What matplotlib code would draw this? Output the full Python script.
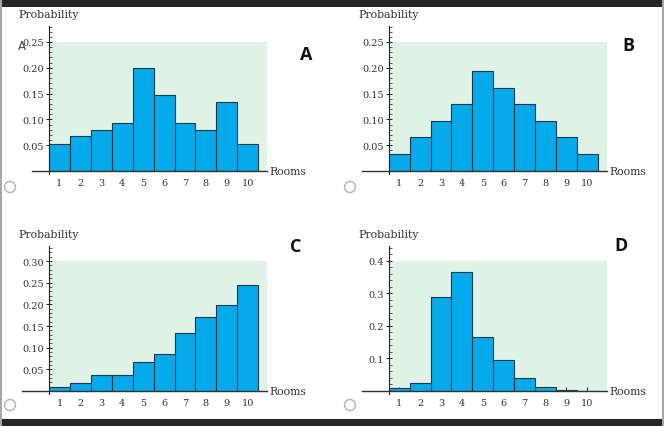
import matplotlib
matplotlib.use("Agg")
import matplotlib.pyplot as plt
from matplotlib.patches import Rectangle, Ellipse
from matplotlib.ticker import MultipleLocator, FixedLocator

W, H = 664, 427

rooms = [1, 2, 3, 4, 5, 6, 7, 8, 9, 10]
prob_a = [0.053, 0.067, 0.080, 0.093, 0.200, 0.147, 0.093, 0.080, 0.133, 0.053]
prob_b = [0.032, 0.065, 0.097, 0.129, 0.194, 0.161, 0.129, 0.097, 0.065, 0.032]
prob_c = [0.009, 0.018, 0.037, 0.037, 0.067, 0.085, 0.134, 0.170, 0.199, 0.246]
prob_d = [0.009, 0.026, 0.288, 0.366, 0.166, 0.094, 0.039, 0.012, 0.002, 0.001]

y_ticks_abc = [0.05, 0.10, 0.15, 0.20, 0.25, 0.30]
y_ticks_d = [0.1, 0.2, 0.3, 0.4]

bar_color = "#05aaea"
edge_color = "#1b3b4d"
bg_color = "#dff2e5"
serif = "DejaVu Serif"

# panel: (letter, data, box px [left, right, top, bottom], xlim, ylim, plot top, ticks, fmt, minor)
panels = [
    ("A", prob_a, (32, 267, 27, 172), (-0.31, 10.92), 0.281, 0.25, y_ticks_abc[:5], "%.2f", 0.01),
    ("B", prob_b, (362, 607, 27, 172), (-0.78, 10.94), 0.281, 0.25, y_ticks_abc[:5], "%.2f", 0.01),
    ("C", prob_c, (22, 267, 247, 392), (-0.79, 10.92), 0.335, 0.30, y_ticks_abc, "%.2f", 0.01),
    ("D", prob_d, (362, 607, 247, 392), (-0.78, 10.94), 0.446, 0.40, y_ticks_d, "%.1f", 0.02),
]

fig = plt.figure(figsize=(W / 100, H / 100), dpi=100)
fig.patch.set_facecolor("white")


def px_axes(left, right, top, bottom):
    return fig.add_axes([left / W, 1 - bottom / H, (right - left) / W, (bottom - top) / H])


for letter, probs, box, xlim, ytop, plot_top, ticks, fmt, minor in panels:
    ax = px_axes(*box)
    ax.set_xlim(*xlim)
    ax.set_ylim(0, ytop)
    ax.patch.set_alpha(0)
    ax.add_patch(Rectangle((0.5, 0), xlim[1] - 0.5, plot_top, facecolor=bg_color,
                           edgecolor="none", zorder=0))
    ax.bar(rooms, probs, width=1.0, color=bar_color, edgecolor=edge_color,
           linewidth=0.8, zorder=2)

    for s in ["top", "right"]:
        ax.spines[s].set_visible(False)
    ax.spines["left"].set_position(("data", 0.5))
    ax.spines["left"].set_bounds(-ytop * 0.02, ytop)
    ax.spines["left"].set_color("#222222")
    ax.spines["bottom"].set_color("#333333")
    ax.spines["bottom"].set_linewidth(1.0)
    ax.spines["left"].set_linewidth(0.8)

    ax.yaxis.set_major_locator(FixedLocator(ticks))
    ax.set_yticklabels([fmt % t for t in ticks])
    ax.yaxis.set_minor_locator(MultipleLocator(minor))
    ax.tick_params(axis="y", which="major", direction="inout", length=5, width=0.7,
                   pad=1, labelsize=7, labelcolor="#333333", color="#222222")
    ax.tick_params(axis="y", which="minor", direction="in", length=2, width=0.5,
                   color="#222222")
    ax.set_xticks(rooms)
    ax.tick_params(axis="x", direction="in", length=3, width=0.7, pad=5,
                   labelsize=7, labelcolor="#333333", color="#222222")
    for lab in ax.get_xticklabels() + ax.get_yticklabels():
        lab.set_family(serif)

    left, right, top, bottom = box
    ox = 18 if left < 300 else 358
    fig.text(ox / W, 1 - (top - 12) / H, "Probability", family=serif, fontsize=7.8,
             color="#333333", va="center", ha="left")
    fig.text((right + 2) / W, 1 - bottom / H, "Rooms", family=serif, fontsize=7.8,
             color="#333333", va="center", ha="left")

# panel letters
fig.text(306 / W, 1 - 55 / H, "A", family="Open Sans", weight="bold", fontsize=13,
         ha="center", va="center", color="#111111")
fig.text(628 / W, 1 - 46 / H, "B", family="Open Sans", weight="bold", fontsize=13,
         ha="center", va="center", color="#111111")
fig.text(296 / W, 1 - 247 / H, "C", family="Open Sans", weight="bold", fontsize=13,
         ha="center", va="center", color="#111111")
fig.text(621 / W, 1 - 246 / H, "D", family="Open Sans", weight="bold", fontsize=13,
         ha="center", va="center", color="#111111")
# stray label overlapping the first axis
fig.text(22 / W, 1 - 46 / H, "A", fontsize=8.5, ha="center", va="center", color="#444444")

# radio buttons
for cx, cy in [(10, 188), (350, 188), (10, 406), (350, 406)]:
    fig.add_artist(Ellipse((cx / W, 1 - cy / H), 11 / W, 11 / H, transform=fig.transFigure,
                           facecolor="white", edgecolor="#b5b5b5", linewidth=1.0))

# page frame
fig.add_artist(Rectangle((0, 1 - 8 / H), 1, 8 / H, transform=fig.transFigure,
                         facecolor="#262626", edgecolor="none"))
fig.add_artist(Rectangle((0, 0), 1, 7 / H, transform=fig.transFigure,
                         facecolor="#262626", edgecolor="none"))
fig.add_artist(Rectangle((0, 0), 2 / W, 1, transform=fig.transFigure,
                         facecolor="#a8a8a8", edgecolor="none"))
fig.add_artist(Rectangle((1 - 2 / W, 0), 2 / W, 1, transform=fig.transFigure,
                         facecolor="#a8a8a8", edgecolor="none"))

fig.savefig("out.png", dpi=100)
